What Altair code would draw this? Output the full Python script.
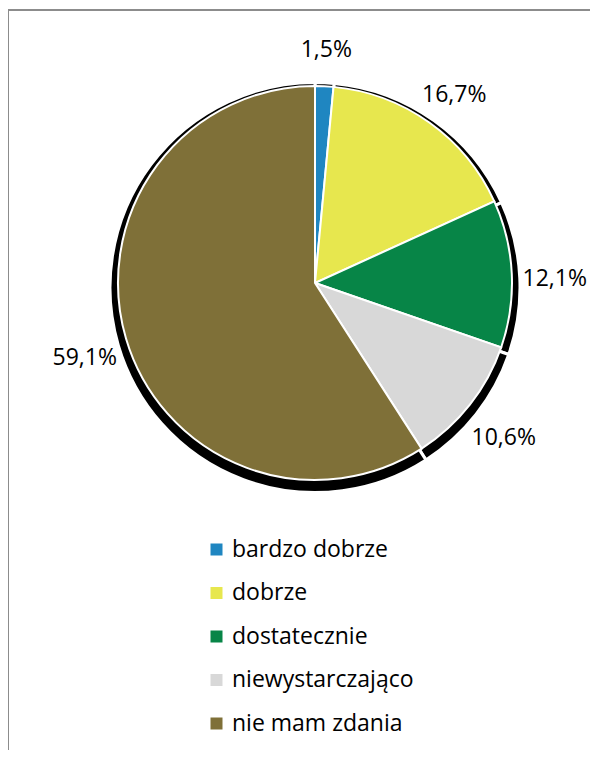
import altair as alt
import pandas as pd

categories = ["bardzo dobrze", "dobrze", "dostatecznie", "niewystarczająco", "nie mam zdania"]
values = [1.5, 16.7, 12.1, 10.6, 59.1]
colors = ["#1f86c1", "#e7e74e", "#078547", "#d8d8d8", "#7f7038"]

df = pd.DataFrame({
    "kategoria": categories,
    "wartosc": values,
    "kolejnosc": list(range(len(categories))),
    "etykieta": [f"{v:.1f}%".replace(".", ",") for v in values],
})

W, H = 582, 742
CX, CY = 307, 275
R = 197
FONT = "Open Sans"
FS = 23

base = alt.Chart(df)

theta = alt.Theta("wartosc:Q", stack=True)
order = alt.Order("kolejnosc:Q", sort="ascending")

shadow = base.mark_arc(outerRadius=R + 8, color="black", stroke="white", strokeWidth=3).encode(
    theta=theta, order=order,
    x=alt.value(CX), y=alt.value(CY + 4.5),
)

pie = base.mark_arc(outerRadius=R, stroke="white", strokeWidth=2).encode(
    theta=theta, order=order,
    x=alt.value(CX), y=alt.value(CY),
    color=alt.Color(
        "kategoria:N",
        scale=alt.Scale(domain=categories, range=colors),
        sort=categories,
        legend=alt.Legend(
            title=None, orient="none", legendX=197, legendY=530,
            symbolType="square", symbolSize=144, symbolStrokeWidth=0,
            labelFont=FONT, labelFontSize=FS, labelColor="black",
            rowPadding=19.5, labelOffset=4, labelLimit=400,
        ),
    ),
)

labels = base.mark_text(radius=240, dy=7, font=FONT, fontSize=FS, color="black").encode(
    theta=theta, order=order,
    x=alt.value(CX), y=alt.value(CY),
    text="etykieta:N",
)

frame_df = alt.Data(values=[{"a": 1}])
left = alt.Chart(frame_df).mark_rule(color="#8c8c8c", strokeWidth=2).encode(
    x=alt.value(0), y=alt.value(2), y2=alt.value(H)
)
top = alt.Chart(frame_df).mark_rule(color="#8c8c8c", strokeWidth=2).encode(
    y=alt.value(2), x=alt.value(0), x2=alt.value(W)
)

chart = alt.layer(left, top, shadow, pie, labels).properties(
    width=W, height=H, padding=0, autosize=alt.AutoSizeParams(type="none")
).configure_view(stroke=None)

chart.save("out.html", embed_options={"renderer": "svg", "actions": False})
